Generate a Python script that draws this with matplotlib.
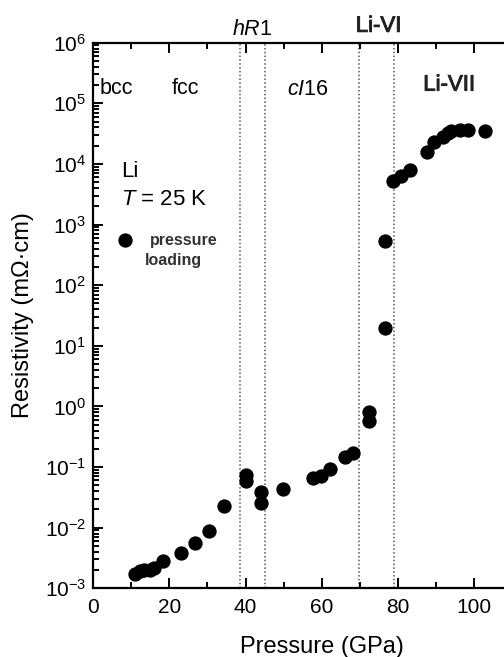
import matplotlib
matplotlib.use("Agg")
import matplotlib.pyplot as plt
import matplotlib.patheffects as pe
from matplotlib.ticker import LogLocator, MultipleLocator, NullFormatter

plt.rcParams['font.family'] = ['Liberation Sans', 'DejaVu Sans']
plt.rcParams['mathtext.fontset'] = 'custom'
plt.rcParams['mathtext.rm'] = 'Liberation Sans'
plt.rcParams['mathtext.it'] = 'Liberation Sans:italic'

# pressure loading data (GPa, mOhm cm)
pressure = [11.0, 12.3, 13.4, 14.9, 16.0, 18.4, 23.0, 26.7, 30.5, 34.3,
            40.1, 40.1, 44.0, 44.0, 49.9, 57.7, 59.9, 62.1, 66.1, 68.2,
            72.4, 72.4, 76.5, 76.5, 78.7, 80.7, 83.1, 87.5, 89.4, 91.8,
            93.0, 94.0, 96.2, 98.4, 102.8]
resistivity = [1.7e-3, 1.95e-3, 2.0e-3, 2.0e-3, 2.2e-3, 2.8e-3, 3.8e-3, 5.5e-3, 8.9e-3, 2.3e-2,
               7.4e-2, 5.9e-2, 3.9e-2, 2.6e-2, 4.3e-2, 6.6e-2, 7.2e-2, 9.3e-2, 0.145, 0.168,
               0.81, 0.58, 20.0, 540.0, 5200.0, 6300.0, 7900.0, 1.58e4, 2.3e4, 2.8e4,
               3.2e4, 3.55e4, 3.6e4, 3.6e4, 3.55e4]

# phase boundaries (GPa)
boundaries = [38.5, 45.1, 69.8, 79.0]
x_ticks = [0, 20, 40, 60, 80, 100]

fig = plt.figure(figsize=(5.04, 6.57), dpi=100)
ax = fig.add_axes([0.1845, 0.1046, 0.908, 0.8304])

ax.plot(pressure, resistivity, 'o', color='black', markersize=9.3, zorder=3)

for b in boundaries:
    ax.axvline(b, color='#555555', linestyle=(0, (1, 1.5)), linewidth=1.1, zorder=1)

ax.set_yscale('log')
ax.set_xlim(0, 120)
ax.set_ylim(1e-3, 1e6)

ax.set_xticks(x_ticks)
ax.xaxis.set_minor_locator(MultipleLocator(10))
ax.yaxis.set_minor_locator(LogLocator(base=10, subs=range(2, 10), numticks=20))
ax.yaxis.set_minor_formatter(NullFormatter())
ax.set_yticks([10.0**k for k in range(-3, 7)])
ax.set_yticklabels([r'$\mathregular{10^{%d}}$' % k for k in range(-3, 7)])

ax.tick_params(axis='both', which='both', direction='in', labelsize=15, width=1.4)
ax.tick_params(axis='x', which='both', top=True, bottom=True, pad=7)
ax.tick_params(axis='y', which='both', left=True, right=False, pad=5)
ax.tick_params(which='major', length=7)
ax.tick_params(which='minor', length=4)

for side in ['left', 'bottom', 'top']:
    ax.spines[side].set_linewidth(1.6)
ax.spines['right'].set_visible(False)

ax.set_xlabel('Pressure (GPa)', fontsize=17, labelpad=14)
ax.set_ylabel('Resistivity (m\u03a9\u00b7cm)', fontsize=17, labelpad=8)

# phase labels
heavy = [pe.withStroke(linewidth=0.7, foreground='#222222')]
ax.text(1.8, 10**5.15, 'bcc', fontsize=15.5, va='baseline')
ax.text(20.6, 10**5.15, 'fcc', fontsize=15.5, va='baseline')
ax.text(50.8, 10**5.14, r'$\mathit{cI}$16', fontsize=15.5, va='baseline')
ax.text(86.6, 10**5.21, 'Li-VII', fontsize=16, va='baseline', color='#222222',
        path_effects=heavy)
ax.text(36.5, 10**6.127, r'$\mathit{hR}$1', fontsize=15.5, va='baseline', clip_on=False)
ax.text(68.9, 10**6.18, 'Li-VI', fontsize=16, va='baseline', color='#222222',
        path_effects=heavy, clip_on=False)

ax.text(7.5, 10**3.79, 'Li', fontsize=16, va='baseline')
ax.text(7.3, 10**3.32, r'$\mathit{T}$ = 25 K', fontsize=16, va='baseline')

# legend
ax.plot([8.4], [10**2.74], 'o', color='black', markersize=9.3)
ax.text(14.9, 10**2.74, 'pressure', fontsize=11.5, va='center', fontweight='bold', color='#333333')
ax.text(13.6, 10**2.41, 'loading', fontsize=11.5, va='center', fontweight='bold', color='#333333')

fig.savefig('out.png', dpi=100)
